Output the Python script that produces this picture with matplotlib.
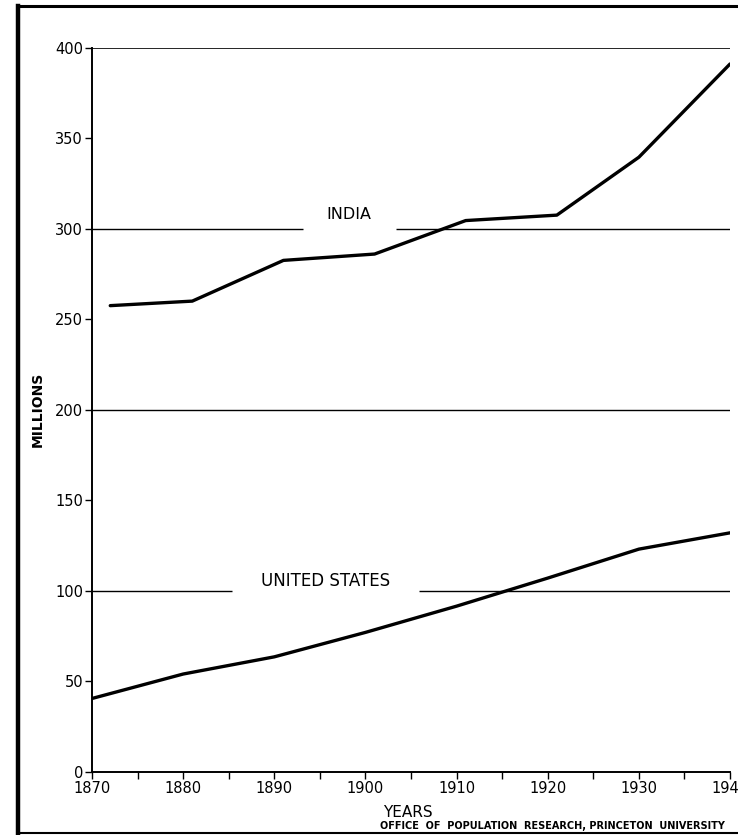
import numpy as np
import matplotlib
matplotlib.use("Agg")
import matplotlib.pyplot as plt
from matplotlib.lines import Line2D

# Population in millions
india_years = [1872, 1881, 1891, 1901, 1911, 1921, 1930, 1940]
india_pop = [257.5, 260, 282.5, 286, 304.5, 307.5, 339.5, 391]

us_years = [1870, 1880, 1890, 1900, 1910, 1920, 1930, 1940]
us_pop = [40.5, 54, 63.5, 77, 91.5, 107, 123, 132]

y_ticks = [0, 50, 100, 150, 200, 250, 300, 350, 400]
x_labels = [1870, 1880, 1890, 1900, 1910, 1920, 1930, 1940]

fig = plt.figure(figsize=(7.38, 8.35), dpi=100)
ax = fig.add_axes([0.1247, 0.0757, 0.8645, 0.8672])

# Frame around the whole sheet (right side is cut off in the original)
fig.add_artist(Line2D([0.0244, 0.0244], [0.002, 0.993], transform=fig.transFigure,
                      color="black", lw=3.2))
fig.add_artist(Line2D([0.0244, 1.0], [0.993, 0.993], transform=fig.transFigure,
                      color="black", lw=2.2))
fig.add_artist(Line2D([0.0244, 1.0], [0.0025, 0.0025], transform=fig.transFigure,
                      color="black", lw=1.5))

# Horizontal rules, broken where the country names sit
ax.hlines(400, 1870, 1940, color="black", lw=1.2)
ax.hlines(200, 1870, 1940, color="black", lw=1.0)
ax.hlines([300, 300], [1870, 1903.4], [1893.2, 1940], color="black", lw=1.0)
ax.hlines([100, 100], [1870, 1905.9], [1885.4, 1940], color="black", lw=1.0)

ax.plot(india_years, india_pop, color="black", lw=2.4, solid_capstyle="round")
ax.plot(us_years, us_pop, color="black", lw=2.4, solid_capstyle="round")

ax.text(1898.2, 303.5, "INDIA", ha="center", va="bottom", fontsize=11.5)
ax.text(1895.6, 100.5, "UNITED STATES", ha="center", va="bottom", fontsize=12)

ax.set_xlim(1870, 1940)
ax.set_ylim(0, 400)
ax.set_yticks(y_ticks)
ax.set_xticks(np.arange(1870, 1941, 5))
ax.set_xticklabels([str(y) if y in x_labels else "" for y in np.arange(1870, 1941, 5)])
ax.tick_params(axis="both", direction="out", length=5, width=1.0, labelsize=10.5, pad=1.5)

for side in ["top", "right"]:
    ax.spines[side].set_visible(False)
for side in ["left", "bottom"]:
    ax.spines[side].set_linewidth(1.4)

ax.set_ylabel("MILLIONS", fontsize=10, fontweight="bold")
ax.yaxis.set_label_coords(-0.0745, 0.5)

fig.text(0.5525, 0.0275, "YEARS", ha="center", va="center", fontsize=11)
fig.text(0.749, 0.011, "OFFICE  OF  POPULATION  RESEARCH, PRINCETON  UNIVERSITY",
         ha="center", va="center", fontsize=7, fontweight="bold")

fig.savefig("out.png", dpi=100)
plt.close()
